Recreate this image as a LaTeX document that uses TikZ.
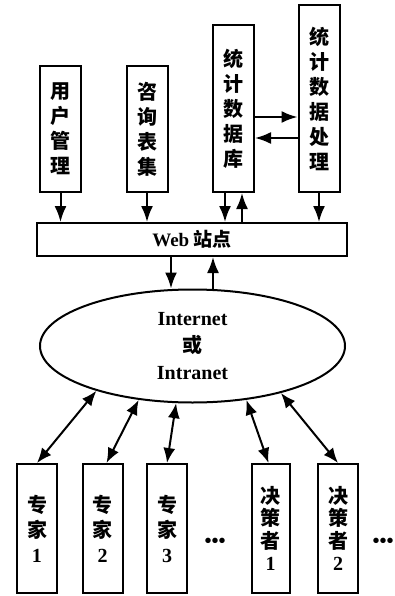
\documentclass[tikz,border=0pt]{standalone}
\usepackage{fontspec}
\setmainfont{Liberation Serif}
\newfontfamily\cjk{Noto Sans CJK SC}
\usetikzlibrary{shapes.geometric,arrows.meta}
\tikzset{
    caja/.style={draw, line width=2pt, inner sep=0pt, align=center,
        font=\cjk\bfseries\fontsize{20}{25}\selectfont},
    flecha/.style={line width=2pt, -{Latex[length=16pt,width=12pt]}},
    doble/.style={line width=2pt, {Latex[length=15pt,width=12pt]}-{Latex[length=15pt,width=12pt]}},
}
\begin{document}
\begin{tikzpicture}[x=1pt,y=-1pt]
        \useasboundingbox (0,0) rectangle (395,596);
        % ~~~~ Modulos ~~~~ %
        \node[caja, minimum width=41, minimum height=126] (usuarios) at (60.5,129) {用\\户\\管\\理};
        \node[caja, minimum width=41, minimum height=126] (consulta) at (147,129) {咨\\询\\表\\集};
        \node[caja, minimum width=41, minimum height=167] (datos) at (233.5,108.5) {统\\计\\数\\据\\库};
        \node[caja, minimum width=41, minimum height=187] (proceso) at (319,98.5) {统\\计\\数\\据\\处\\理};

        % ~~~~ Web / Red ~~~~ %
        \node[caja, minimum width=310, minimum height=33, font=\cjk\bfseries\fontsize{19}{25}\selectfont] (web) at (192,239.5) {\textrm{Web} 站点};
        \node[draw, ellipse, line width=2pt, minimum width=305, minimum height=113, inner sep=0pt,
            align=center, font=\bfseries\fontsize{20}{27}\selectfont] (red) at (192.5,346)
            {Internet\\{\cjk 或}\\Intranet};

        % ~~~~ Expertos / Decisores ~~~~ %
        \node[caja, minimum width=40, minimum height=129] (exp1) at (37,528.5) {专\\家\\\textrm{1}};
        \node[caja, minimum width=40, minimum height=129] (exp2) at (102.5,528.5) {专\\家\\\textrm{2}};
        \node[caja, minimum width=40, minimum height=129] (exp3) at (167,528.5) {专\\家\\\textrm{3}};
        \node[caja, minimum width=38, minimum height=129, font=\cjk\bfseries\fontsize{20}{22.5}\selectfont] (dec1) at (270.5,528.5) {决\\策\\者\\\textrm{1}};
        \node[caja, minimum width=40, minimum height=129, font=\cjk\bfseries\fontsize{20}{22.5}\selectfont] (dec2) at (338,528.5) {决\\策\\者\\\textrm{2}};
        \node[font=\bfseries\fontsize{20}{20}\selectfont, inner sep=0pt] (puntos1) at (215,543) {•••};
        \node[font=\bfseries\fontsize{20}{20}\selectfont, inner sep=0pt] (puntos2) at (383,543) {•••};

        % ~~~~ Flechas ~~~~ %
        \draw[flecha] (usuarios.south) -- (usuarios.south |- web.north);
        \draw[flecha] (consulta.south) -- (consulta.south |- web.north);
        \draw[flecha] ([xshift=-8.5pt]datos.south) -- ([xshift=-8.5pt]datos.south |- web.north);
        \draw[flecha] ([xshift=8.5pt]datos.south |- web.north) -- ([xshift=8.5pt]datos.south);
        \draw[flecha] (proceso.south) -- (proceso.south |- web.north);
        \draw[flecha] ([yshift=-8.5pt]datos.east) -- ([yshift=-8.5pt]datos.east -| proceso.west);
        \draw[flecha] ([yshift=-29.5pt]datos.east -| proceso.west) -- ([yshift=-29.5pt]datos.east);

        \draw[flecha] ([xshift=-21pt]web.south) -- ([xshift=-21pt]web.south |- red.north);
        \draw[flecha] ([xshift=21pt]web.south |- red.north) -- ([xshift=21pt]web.south);

        \draw[doble] (red.205.9) -- (exp1.north);
        \draw[doble] (red.225.3) -- ([xshift=4pt]exp2.north);
        \draw[doble] (red.254.6) -- (exp3.north);
        \draw[doble] (red.315.9) -- ([xshift=-2pt]dec1.north);
        \draw[doble] (red.332.1) -- (dec2.north);
\end{tikzpicture}
\end{document}
